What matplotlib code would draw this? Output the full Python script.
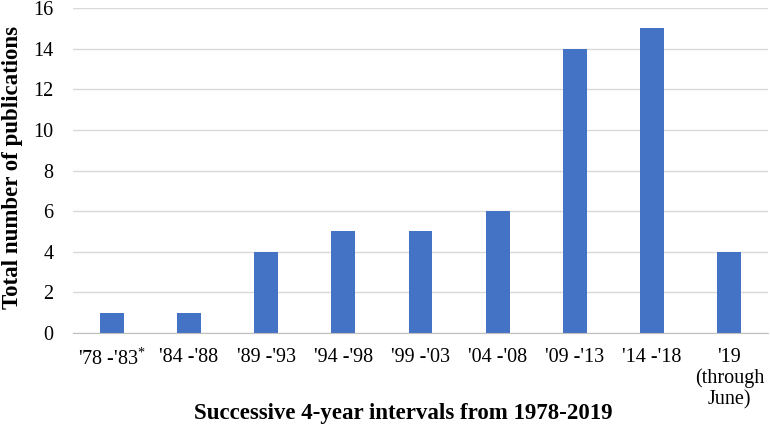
import matplotlib
matplotlib.use("Agg")
import matplotlib.pyplot as plt

categories = ["'78 -'83$^{*}$", "'84 -'88", "'89 -'93", "'94 -'98", "'99 -'03",
              "'04 -'08", "'09 -'13", "'14 -'18", "'19\n(through\nJune)"]
values = [1, 1, 4, 5, 5, 6, 14, 15, 4]
yticks = [0, 2, 4, 6, 8, 10, 12, 14, 16]

plt.rcParams['font.family'] = ['Liberation Serif', 'DejaVu Serif']
plt.rcParams['mathtext.fontset'] = 'custom'
plt.rcParams['mathtext.rm'] = 'Liberation Serif'

fig = plt.figure(figsize=(7.7, 4.32), dpi=100)
L, R, T, B = 73, 768, 8, 333
ax = fig.add_axes([L/770, 1 - B/432, (R - L)/770, (B - T)/432])

x = list(range(len(categories)))
ax.bar(x, values, width=0.31, color='#4472C4', zorder=3)
ax.set_xlim(-0.5, len(categories) - 0.5)
ax.set_ylim(0, 16)
ax.set_yticks(yticks)
ax.set_xticks(x)
ax.set_xticklabels(categories, fontsize=14.5, linespacing=1.1)
ax.tick_params(axis='y', labelsize=14.5, length=0, pad=14)
ax.tick_params(axis='x', length=0, pad=11)
ax.grid(axis='y', color='#D9D9D9', linewidth=1, zorder=0)
for s in ['top', 'right', 'left']:
    ax.spines[s].set_visible(False)
ax.spines['bottom'].set_color('#BFBFBF')
ax.spines['bottom'].set_zorder(4)

ax.set_ylabel('Total number of publications', fontsize=16.5, fontweight='bold')
ax.set_xlabel('Successive 4-year intervals from 1978-2019', fontsize=16.5, fontweight='bold')
ax.xaxis.set_label_coords((403 - L) / (R - L), -(403 - B) / (B - T))
ax.yaxis.set_label_coords(-(L - 23) / (R - L), (B - 167) / (B - T))

fig.savefig('out.png', dpi=100)
